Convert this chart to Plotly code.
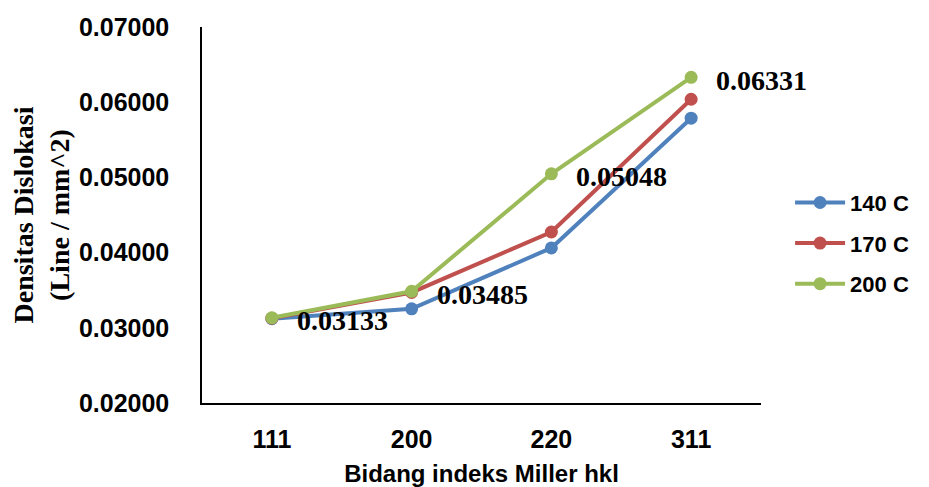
import plotly.graph_objects as go

planes = ["111", "200", "220", "311"]
series_names = ["140 C", "170 C", "200 C"]
density_140 = [0.03122, 0.03252, 0.04062, 0.05787]
density_170 = [0.03128, 0.03470, 0.04274, 0.06039]
density_200 = [0.03133, 0.03485, 0.05048, 0.06331]
label_texts = ["0.03133", "0.03485", "0.05048", "0.06331"]

colors = ["#4F81BD", "#C0504D", "#9BBB59"]
SANS = "Liberation Sans, Arial, sans-serif"
SERIF = "Liberation Serif, Times New Roman, serif"

fig = go.Figure()
for name, vals, col in zip(series_names, [density_140, density_170, density_200], colors):
    fig.add_trace(go.Scatter(
        x=planes, y=vals, name=name, mode="lines+markers",
        line=dict(color=col, width=4),
        marker=dict(color=col, size=13, symbol="circle"),
        legendgroup=name,
    ))

# data labels for the 200 C series (category index used as x position)
for i, (v, t) in enumerate(zip(density_200, label_texts)):
    fig.add_annotation(x=i, y=v, text=t, showarrow=False,
                       xanchor="left", yanchor="middle", xshift=23, yshift=-3,
                       font=dict(family=SERIF, size=28, color="black", weight="bold"))

# page body adds ~8px margin, so the figure is a bit smaller than the window
fig.update_layout(
    width=921, height=479,
    margin=dict(l=194, r=168, t=19, b=84),
    paper_bgcolor="white", plot_bgcolor="white",
    showlegend=True,
    legend=dict(x=1.052, y=0.425, xanchor="left", yanchor="middle",
                traceorder="grouped", tracegroupgap=9, itemwidth=50,
                font=dict(family=SANS, size=22, color="black", weight="bold")),
    xaxis=dict(type="category", range=[-0.5, 3.5], showgrid=False, automargin=False,
               showline=True, linecolor="black", linewidth=1.5,
               ticks="", ticklabelstandoff=13,
               tickfont=dict(family=SANS, size=25, color="black", weight="bold"),
               title=dict(text="Bidang indeks Miller hkl", standoff=20,
                          font=dict(family=SANS, size=24, color="black", weight="bold"))),
    yaxis=dict(range=[0.02, 0.07], dtick=0.01, tickformat=".5f", showgrid=False,
               zeroline=False, automargin=False,
               showline=True, linecolor="black", linewidth=1.5,
               ticks="", ticklabelstandoff=26,
               tickfont=dict(family=SANS, size=25, color="black", weight="bold"),
               title=dict(text="Densitas Dislokasi<br>(Line / mm^2)", standoff=3,
                          font=dict(family=SERIF, size=28, color="black", weight="bold"))),
)

fig.write_html("out.html")
